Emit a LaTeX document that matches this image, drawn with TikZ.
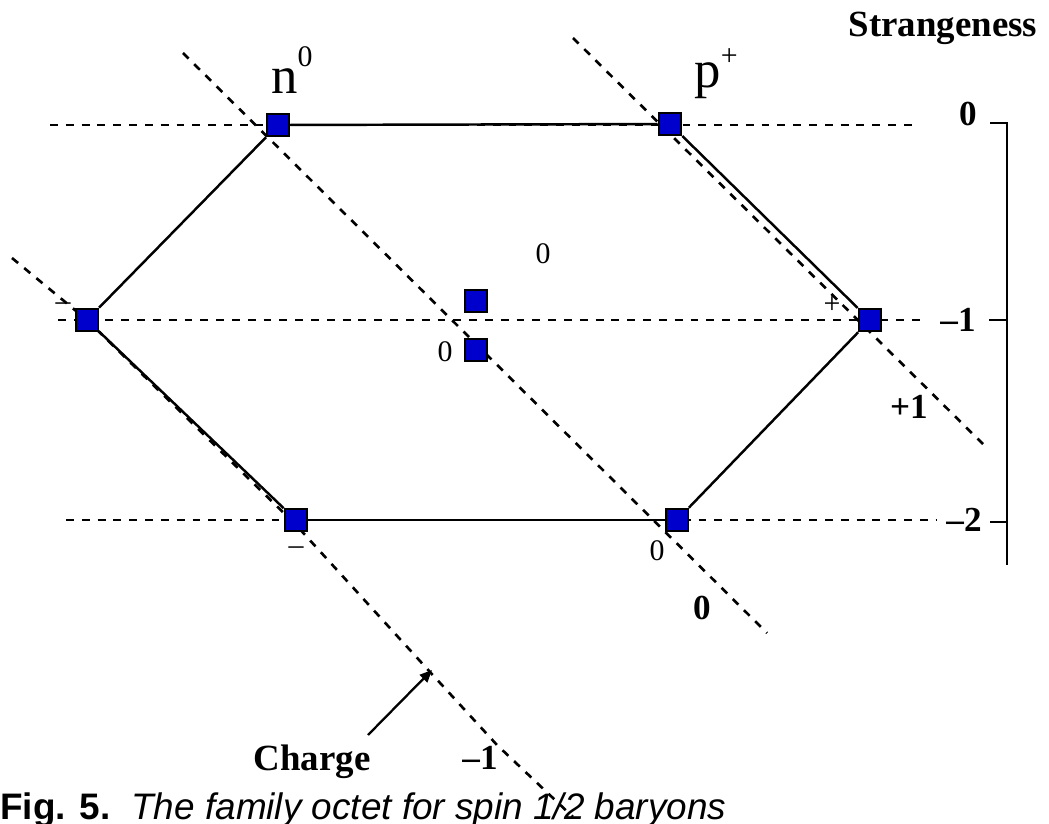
\documentclass[tikz,border=0pt]{standalone}
\usepackage{fontspec}
\setmainfont{Liberation Serif}
\newfontfamily\capfont{Liberation Sans}
\usetikzlibrary{arrows.meta,backgrounds}
\definecolor{sqblue}{RGB}{0,0,204}
\tikzset{
  sq/.style={draw=black, fill=sqblue, line width=1.5pt, minimum size=12.5pt, inner sep=0pt},
  guide/.style={line width=1.5pt, dash pattern=on 4.5pt off 4.5pt},
  edge/.style={line width=1.4pt},
  small/.style={font=\fontsize{17}{17}\selectfont, inner sep=0pt},
  axlab/.style={font=\fontsize{20}{20}\selectfont\bfseries, inner sep=0pt},
  part/.style={font=\fontsize{30}{30}\selectfont, inner sep=0pt}
}
\begin{document}
\begin{tikzpicture}[x=0.02cm, y=-0.02cm]
\useasboundingbox (0,0) rectangle (1049,824);
\clip (0,0) rectangle (1049,824);
% baryon squares
\node[sq] (n)  at (278,125) {};
\node[sq] (p)  at (670,124) {};
\node[sq] (sm) at (87,320) {};
\node[sq] (sp) at (870,320) {};
\node[sq] (la) at (476,301) {};
\node[sq] (sz) at (476,350) {};
\node[sq] (xm) at (296,520) {};
\node[sq] (xz) at (677,520) {};
% guide coordinates
\coordinate (h0a) at (50,125);  \coordinate (h0b) at (918,125);
\coordinate (h1a) at (58,320);  \coordinate (h1b) at (927,320);
\coordinate (h2a) at (66,520);  \coordinate (h2b) at (937,520);
\coordinate (c0a) at (183,53);  \coordinate (c0b) at (767,633);
\coordinate (cpa) at (573,38);  \coordinate (cpb) at (987,448);
\coordinate (cma) at (12,258);  \coordinate (cm1) at (296,525);
\coordinate (cm2) at (430,672); \coordinate (cm3) at (497,745);
\coordinate (cmb) at (573,817);
\begin{scope}[on background layer]
  \draw[guide] (h0a) -- (h0b);
  \draw[guide] (h1a) -- (h1b);
  \draw[guide] (h2a) -- (h2b);
  \draw[guide] (c0a) -- (c0b);
  \draw[guide] (cpa) -- (cpb);
  \draw[guide] (cma) -- (sm.center) -- (cm1) -- (cm2) -- (cm3) -- (cmb);
  \draw[edge] (n) -- (p);
  \draw[edge] (p) -- (sp);
  \draw[edge] (sp) -- (xz);
  \draw[edge] (xz) -- (xm);
  \draw[edge] (xm) -- (sm);
  \draw[edge] (sm) -- (n);
\end{scope}
% particle labels
\node[part] (ln) at (292,70) {n\raisebox{0.5em}{\fontsize{17}{17}\selectfont 0}};
\node[part] (lp) at (716,74) {p\raisebox{0.42em}{\fontsize{17}{17}\selectfont +}};
\node[small] (q1) at (543,254) {0};
\node[small] (q2) at (445,352) {0};
\node[small] (q3) at (832,305) {+};
\node[small] (q4) at (63,307) {\textendash};
\node[small] (q5) at (296,551) {\textendash};
\node[small] (q6) at (657,551) {0};
% strangeness axis
\coordinate (a0) at (990,123);
\coordinate (ac) at (1007,123);
\coordinate (ab) at (1007,565);
\coordinate (t1a) at (989,320); \coordinate (t1b) at (1007,320);
\coordinate (t2a) at (990,522); \coordinate (t2b) at (1007,522);
\draw[line width=1.5pt] (a0) -- (ac) -- (ab);
\draw[line width=1.5pt] (t1a) -- (t1b);
\draw[line width=1.5pt] (t2a) -- (t2b);
\node[axlab, font=\fontsize{21}{21}\selectfont\bfseries] (st) at (943,28) {Strangeness};
\node[axlab] (s0) at (968,114) {0};
\node[axlab] (s1) at (958,320) {\textendash1};
\node[axlab] (s2) at (964,520) {\textendash2};
% charge labels
\node[axlab] (cp) at (909,407) {+1};
\node[axlab] (cz) at (702,608) {0};
\node[axlab] (cm) at (480,758) {\textendash1};
\node[axlab, font=\fontsize{21}{21}\selectfont\bfseries] (ch) at (312,762) {Charge};
\coordinate (arA) at (368,735);
\coordinate (arB) at (432,670);
\draw[line width=1.3pt, -{Triangle[length=7pt,width=6pt]}] (arA) -- (arB);
% caption
\node[anchor=base west, inner sep=0pt, font=\capfont\fontsize{21}{21}\selectfont] (cap) at (0,819)
  {\textbf{Fig. 5.}\hspace{12pt}\textit{The family octet for spin 1/2 baryons}};
\end{tikzpicture}
\end{document}
